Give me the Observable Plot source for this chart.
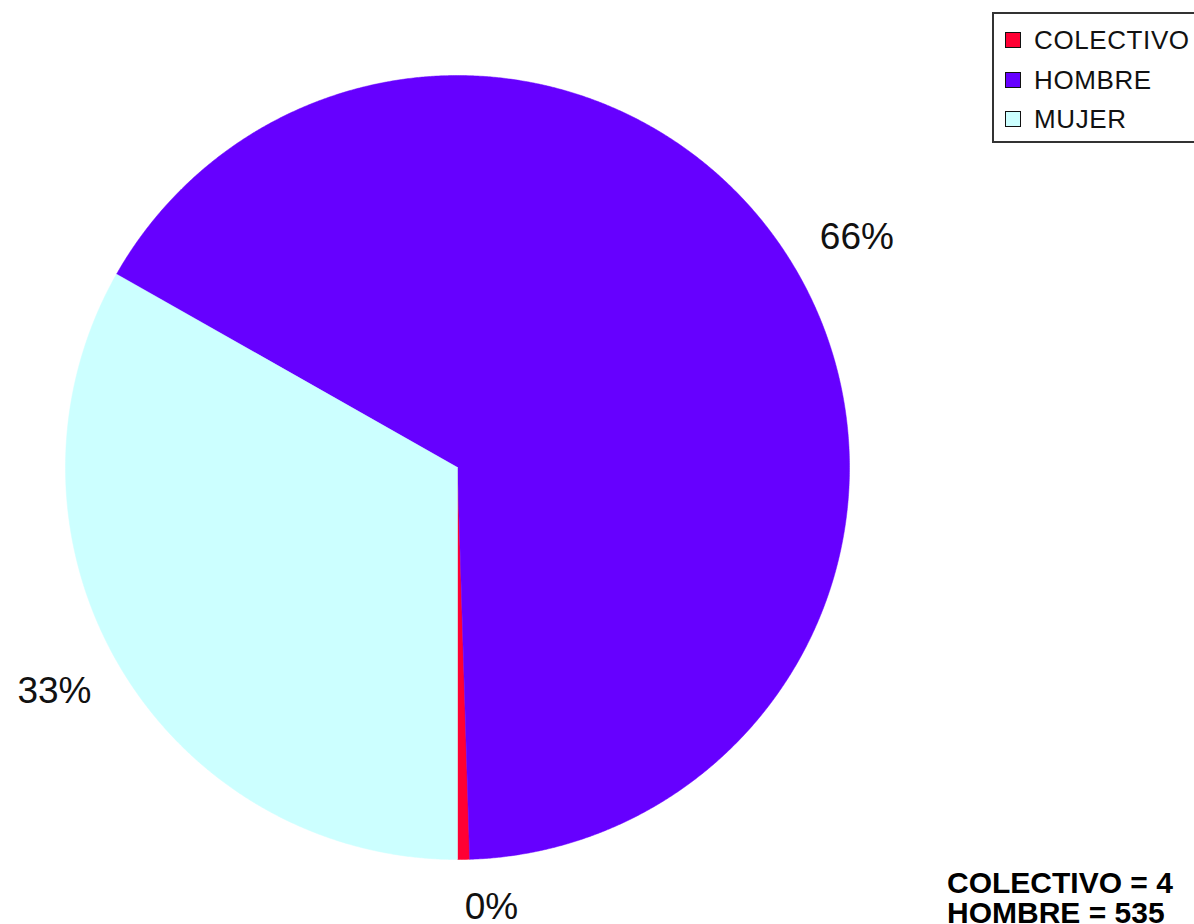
<!DOCTYPE html>
<html>
<head>
<meta charset="utf-8">
<script src="https://cdn.jsdelivr.net/npm/d3@7"></script>
<script src="https://cdn.jsdelivr.net/npm/@observablehq/plot@0.6"></script>
<style>
  html, body { margin: 0; padding: 0; background: #fff; overflow: hidden; }
  #wrap { position: relative; width: 1194px; height: 924px; overflow: hidden; }
  #chart svg { display: block; }
  #legend { position: absolute; left: 992px; top: 12px; width: 260px; height: 127px;
    border: 2px solid #333; background: #fff; font-family: "Liberation Sans", Arial, sans-serif; }
  .row { position: absolute; left: 11px; height: 20px; display: flex; align-items: center; }
  .sw { width: 14px; height: 14px; border: 1.5px solid #111; margin-right: 13px; }
  .lab { font-size: 26px; letter-spacing: 0.6px; color: #111; line-height: 20px; }
  #totals { position: absolute; left: 947px; top: 868px; font-family: "Liberation Sans", Arial, sans-serif;
    font-weight: bold; font-size: 30px; line-height: 30px; color: #000; white-space: pre; }
</style>
</head>
<body>
<div id="wrap">
  <div id="chart"></div>
  <div id="legend"></div>
  <div id="totals"></div>
</div>
<script>
// ---- data ----
const categories = ["COLECTIVO", "HOMBRE", "MUJER"];
const values = [4, 535, 268];
const colors = ["#FF0033", "#6600FF", "#CCFFFF"];

// ---- layout ----
const W = 1194, H = 924;
const cx = 457, cy = 467, r = 392;
const total = d3.sum(values);

// slices: start at 6 o'clock, counterclockwise
const slices = [];
let cum = 0;
categories.forEach((name, i) => {
  const a0 = -Math.PI / 2 + 2 * Math.PI * cum / total;
  cum += values[i];
  const a1 = -Math.PI / 2 + 2 * Math.PI * cum / total;
  slices.push({name, value: values[i], a0, a1, pct: Math.round(values[i] / total * 100)});
});

// polygon points for each slice (unit radius)
const poly = [];
for (const s of slices) {
  poly.push({name: s.name, x: 0, y: 0});
  const n = Math.max(2, Math.ceil((s.a1 - s.a0) / (Math.PI / 720)));
  for (let k = 0; k <= n; k++) {
    const a = s.a0 + (s.a1 - s.a0) * k / n;
    poly.push({name: s.name, x: Math.cos(a), y: Math.sin(a)});
  }
  poly.push({name: s.name, x: 0, y: 0});
}

// label positions (slightly elliptical offset)
const kx = 1.19, ky = 1.135;
const yMin = -(H - cy - 17) / r;
const labels = slices.map(s => {
  const m = (s.a0 + s.a1) / 2;
  return {name: s.name, text: s.pct + "%", x: kx * Math.cos(m),
          y: Math.max(ky * Math.sin(m), yMin), side: Math.abs(Math.cos(m)) < 0.3};
});

const plot = Plot.plot({
  width: W, height: H,
  margin: 0,
  x: {domain: [-cx / r, (W - cx) / r], axis: null},
  y: {domain: [-(H - cy) / r, cy / r], axis: null},
  color: {domain: categories, range: colors},
  marks: [
    Plot.line(poly, {x: "x", y: "y", z: "name", fill: "name", stroke: "name", strokeWidth: 0.5, curve: "linear"}),
    Plot.text(labels.filter(d => !d.side), {x: "x", y: "y", text: "text", textAnchor: "middle",
      fontSize: 37, fill: "#111", fontFamily: "Liberation Sans, Arial, sans-serif"}),
    Plot.text(labels.filter(d => d.side), {x: "x", y: "y", text: "text", textAnchor: "start",
      fontSize: 37, fill: "#111", fontFamily: "Liberation Sans, Arial, sans-serif"})
  ]
});
document.getElementById("chart").appendChild(plot);

// legend
const leg = document.getElementById("legend");
categories.forEach((c, i) => {
  const row = document.createElement("div");
  row.className = "row";
  row.style.top = (16 + i * 39.5) + "px";
  const sw = document.createElement("div");
  sw.className = "sw";
  sw.style.background = colors[i];
  const lab = document.createElement("div");
  lab.className = "lab";
  lab.textContent = c;
  row.appendChild(sw); row.appendChild(lab);
  leg.appendChild(row);
});

// totals
document.getElementById("totals").textContent =
  categories.map((c, i) => c + " = " + values[i]).join("\n");
</script>
</body>
</html>
